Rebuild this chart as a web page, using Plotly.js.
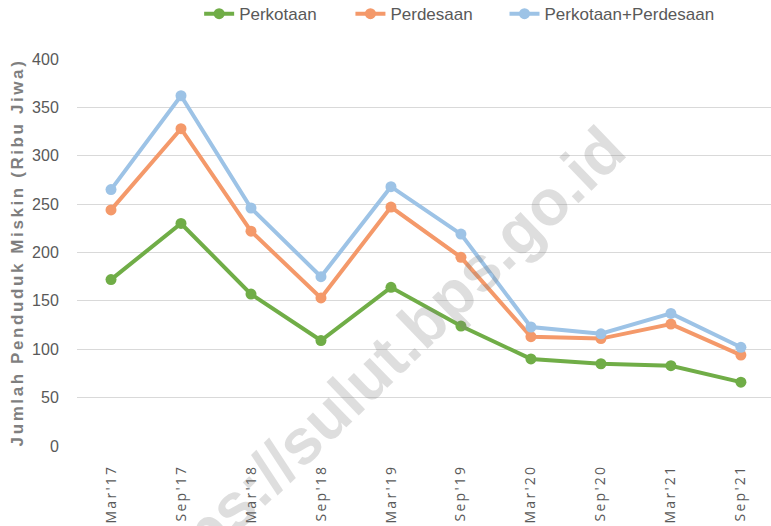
<!DOCTYPE html>
<html>
<head>
<meta charset="utf-8">
<script src="https://cdn.plot.ly/plotly-3.0.1.min.js"></script>
<style>
html,body{margin:0;padding:0;background:#fff;}
#chart{width:771px;height:526px;}
#chart .xtick text{letter-spacing:2.3px;}
#chart .ytitle{letter-spacing:2.6px;}
</style>
</head>
<body>
<div id="chart"></div>
<script>
const categories = ["Mar'17","Sep'17","Mar'18","Sep'18","Mar'19","Sep'19","Mar'20","Sep'20","Mar'21","Sep'21"];
const perkotaan = [172, 230, 157, 109, 164, 124, 90, 85, 83, 66];
const perdesaan = [244, 328, 222, 153, 247, 195, 113, 111, 126, 94];
const gabungan = [265, 362, 246, 175, 268, 219, 123, 116, 137, 102];
const seriesNames = ["Perkotaan", "Perdesaan", "Perkotaan+Perdesaan"];
const yTicks = [0, 50, 100, 150, 200, 250, 300, 350, 400];

const colors = ["#70AD47", "#F4996A", "#9DC3E6"];
const legendIds = ['legend', 'legend2', 'legend3'];
const data = [perkotaan, perdesaan, gabungan].map((vals, i) => ({
  type: 'scatter', mode: 'lines+markers',
  x: categories, y: vals, name: seriesNames[i], legend: legendIds[i],
  line: {color: colors[i], width: 4},
  marker: {color: colors[i], size: 11},
  cliponaxis: false
}));

const legendFont = {family: "'Liberation Sans', Arial, sans-serif", size: 17, color: '#595959'};
function leg(x) {
  return {orientation: 'h', x: x, xanchor: 'left', y: 1.116, yanchor: 'middle',
    font: legendFont, itemwidth: 30, bgcolor: 'rgba(0,0,0,0)', borderwidth: 0};
}

const layout = {
  width: 771, height: 526,
  margin: {l: 77, r: 0, t: 59, b: 80, autoexpand: false},
  paper_bgcolor: '#ffffff', plot_bgcolor: '#ffffff',
  showlegend: true,
  legend: leg(0.176), legend2: leg(0.394), legend3: leg(0.616),
  xaxis: {type: 'category', range: [-0.486, 9.43], tickangle: -90, automargin: false,
    showgrid: false, zeroline: false, showline: false, ticks: 'outside', ticklen: 12, tickcolor: 'rgba(0,0,0,0)',
    tickfont: {family: "'Open Sans', sans-serif", size: 14, color: '#595959'}},
  yaxis: {range: [0, 400], tickvals: yTicks, ticktext: yTicks.map(String), automargin: false,
    showgrid: true, gridcolor: '#d9d9d9', gridwidth: 1, zeroline: false, showline: false,
    ticks: 'outside', ticklen: 14, tickcolor: 'rgba(0,0,0,0)',
    tickfont: {family: "'Liberation Sans', Arial, sans-serif", size: 16, color: '#595959'},
    title: {text: 'Jumlah Penduduk Miskin (Ribu Jiwa)', standoff: 4,
      font: {family: "'Liberation Sans', Arial, sans-serif", size: 17, color: '#7f7f7f', weight: 'bold'}}},
  annotations: [{
    text: 'https://sulut.bps.go.id', xref: 'x', yref: 'y', x: 3.74, y: 78,
    showarrow: false, textangle: -44,
    font: {family: "'Liberation Sans', Arial, sans-serif", size: 64, color: 'rgba(128,128,128,0.26)', weight: 'bold'}
  }]
};

Plotly.newPlot('chart', data, layout, {displayModeBar: false, staticPlot: true});
</script>
</body>
</html>
